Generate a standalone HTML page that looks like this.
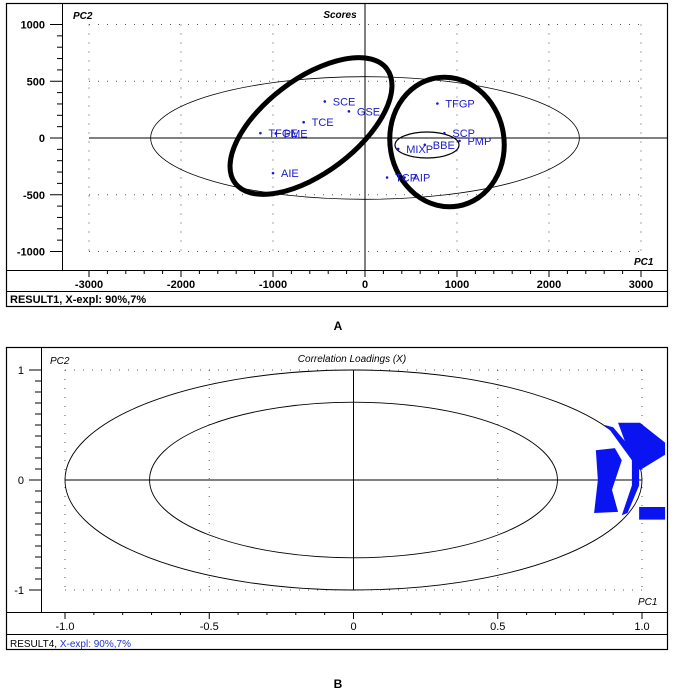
<!DOCTYPE html>
<html><head><meta charset="utf-8"><style>
body{margin:0;background:#fff;width:675px;height:692px;overflow:hidden}
svg{font-family:"Liberation Sans",Arial,sans-serif}
</style></head><body>
<svg id="s" width="675" height="692">
<rect x="6.5" y="3.5" width="661" height="303" fill="none" stroke="#000" stroke-width="1.2"/>
<line x1="62.5" y1="3" x2="62.5" y2="270" stroke="#000"/>
<line x1="6" y1="270.5" x2="667" y2="270.5" stroke="#000"/>
<line x1="6" y1="291.5" x2="667" y2="291.5" stroke="#000"/>
<text x="10" y="303" font-size="11" font-weight="bold">RESULT1, X-expl: 90%,7%</text>
<text x="73" y="19" font-size="10" font-weight="bold" font-style="italic">PC2</text>
<text x="340" y="18" font-size="10" font-weight="bold" font-style="italic" text-anchor="middle">Scores</text>
<text x="634" y="265" font-size="10" font-weight="bold" font-style="italic">PC1</text>
<g id="gA"></g>
<text x="338" y="330" font-size="12" font-weight="bold" text-anchor="middle">A</text>
<rect x="6.5" y="347.5" width="661" height="302" fill="none" stroke="#000" stroke-width="1.2"/>
<line x1="41.5" y1="347" x2="41.5" y2="612" stroke="#000"/>
<line x1="6" y1="612.5" x2="667" y2="612.5" stroke="#000"/>
<line x1="6" y1="634.5" x2="667" y2="634.5" stroke="#000"/>
<text x="10" y="647" font-size="10">RESULT4, <tspan fill="#2233cc">X-expl: 90%,7%</tspan></text>
<text x="50" y="364" font-size="10" font-style="italic">PC2</text>
<text x="352" y="362" font-size="10" font-style="italic" text-anchor="middle">Correlation Loadings (X)</text>
<text x="638" y="605" font-size="10" font-style="italic">PC1</text>
<g id="gB"></g>
<text x="338" y="688" font-size="12" font-weight="bold" text-anchor="middle">B</text>
</svg>
<script>
const xTicksA=[-3000,-2000,-1000,0,1000,2000,3000];
const yTicksA=[1000,500,0,-500,-1000];
const sampleNames=["SCE","GSE","TCE","TFGE","PME","AIE","TFGP","SCP","PMP","MIXP","BBE","TCP","AIP"];
const pc1Scores=[-437,-175,-667,-1137,-970,-1000,787,863,1027,361,650,240,430];
const pc2Scores=[322,235,139,43,40,-310,304,43,-26,-96,-60,-348,-348];
const blobLoadings=[
 [[0.917,0.52],[0.993,0.52],[1.08,0.34],[1.08,0.23],[0.993,0.09],[0.965,0.18]],
 [[0.84,0.27],[0.906,0.29],[0.93,0.18],[0.896,-0.09],[0.917,-0.29],[0.834,-0.3],[0.847,0]],
 [[0.87,0.5],[0.9,0.48],[0.99,0.2],[0.99,-0.05],[0.95,-0.3],[0.93,-0.32],[0.965,-0.05],[0.965,0.18],[0.89,0.45]],
 [[0.99,-0.245],[1.08,-0.245],[1.08,-0.36],[0.99,-0.36]]
];
const xTicksB=[-1.0,-0.5,0,0.5,1.0];
const yTicksB=[1,0,-1];
const NS="http://www.w3.org/2000/svg";
function mk(p,t,a){const e=document.createElementNS(NS,t);for(const k in a)e.setAttribute(k,a[k]);p.appendChild(e);return e;}
const xA=v=>365+v*0.092, yA=v=>138-v*0.1135;
const gA=document.getElementById('gA');
for(let v=-3000;v<=3000;v+=200){const big=v%1000===0;mk(gA,'line',{x1:xA(v),y1:270,x2:xA(v),y2:big?277:274,stroke:'#000'});}
for(let v=-1000;v<=1000;v+=100){const big=v%500===0;mk(gA,'line',{x1:big?50:57,y1:yA(v),x2:62,y2:yA(v),stroke:'#000'});}
xTicksA.forEach(t=>{
 if(t!==0){const l=mk(gA,'line',{x1:xA(t),y1:yA(1000),x2:xA(t),y2:yA(-1000),stroke:'#555','stroke-dasharray':'1,8'});}
 const tx=mk(gA,'text',{x:xA(t),y:288,'font-size':11,'font-weight':'bold','text-anchor':'middle'});tx.textContent=t;
 
});
yTicksA.forEach(t=>{
 if(t!==0){const l=mk(gA,'line',{x1:xA(-3000),y1:yA(t),x2:xA(3000),y2:yA(t),stroke:'#555','stroke-dasharray':'1,8'});}
 const tx=mk(gA,'text',{x:45,y:yA(t)+4,'font-size':11,'font-weight':'bold','text-anchor':'end'});tx.textContent=t;
 
});
mk(gA,'line',{x1:xA(-3000),y1:yA(0),x2:667,y2:yA(0),stroke:'#000'});
mk(gA,'line',{x1:xA(0),y1:3,x2:xA(0),y2:270,stroke:'#000'});
mk(gA,'ellipse',{cx:xA(0),cy:yA(0),rx:2330*0.092,ry:540*0.1135,fill:'none',stroke:'#000','stroke-width':0.8});
mk(gA,'ellipse',{cx:311,cy:126,rx:95,ry:47,fill:'none',stroke:'#000','stroke-width':5,transform:'rotate(-37 311 126)'});
mk(gA,'ellipse',{cx:447,cy:142,rx:57,ry:65,fill:'none',stroke:'#000','stroke-width':5,transform:'rotate(-10 447 142)'});
mk(gA,'ellipse',{cx:427,cy:145,rx:32,ry:13,fill:'none',stroke:'#000','stroke-width':1.2});
sampleNames.forEach((n,i)=>{
 const c=mk(gA,'circle',{cx:xA(pc1Scores[i]),cy:yA(pc2Scores[i]),r:1.3,fill:'#1a1acc'});
 
 const t=mk(gA,'text',{x:xA(pc1Scores[i])+8,y:yA(pc2Scores[i])+4,'font-size':11,fill:'#1a1acc'});t.textContent=n;
 
});
const xB=v=>353.5+v*288.5, yB=v=>480-v*110;
const gB=document.getElementById('gB');
for(let i=-10;i<=10;i++){const v=i/10;if(xB(v)>660)continue;const big=i%5===0;mk(gB,'line',{x1:xB(v),y1:612,x2:xB(v),y2:big?619:615,stroke:'#000'});}
for(let i=-10;i<=10;i++){const v=i/10;const big=i%10===0;mk(gB,'line',{x1:big?29:35,y1:yB(v),x2:41,y2:yB(v),stroke:'#000'});}
xTicksB.forEach(t=>{
 if(t!==0){const l=mk(gB,'line',{x1:xB(t),y1:yB(1),x2:xB(t),y2:yB(-1),stroke:'#555','stroke-dasharray':'1,8'});}
 const tx=mk(gB,'text',{x:xB(t),y:630,'font-size':11,'text-anchor':'middle'});tx.textContent=t===0?'0':t.toFixed(1);
 
});
yTicksB.forEach(t=>{
 if(t!==0){const l=mk(gB,'line',{x1:xB(-1),y1:yB(t),x2:xB(1),y2:yB(t),stroke:'#555','stroke-dasharray':'1,8'});}
 const tx=mk(gB,'text',{x:24,y:yB(t)+4,'font-size':11,'text-anchor':'end'});tx.textContent=t;
 
});
mk(gB,'line',{x1:xB(-1),y1:yB(0),x2:xB(1),y2:yB(0),stroke:'#000'});
mk(gB,'line',{x1:xB(0),y1:yB(1),x2:xB(0),y2:yB(-1),stroke:'#000'});
mk(gB,'ellipse',{cx:xB(0),cy:yB(0),rx:288.5,ry:110,fill:'none',stroke:'#000','stroke-width':0.9});
mk(gB,'ellipse',{cx:xB(0),cy:yB(0),rx:288.5*0.707,ry:110*0.707,fill:'none',stroke:'#000','stroke-width':0.9});
blobLoadings.forEach(poly=>{
 const p=mk(gB,'polygon',{points:poly.map(q=>xB(q[0])+','+yB(q[1])).join(' '),fill:'#0a14f0'});
 
});
</script>
</body></html>
